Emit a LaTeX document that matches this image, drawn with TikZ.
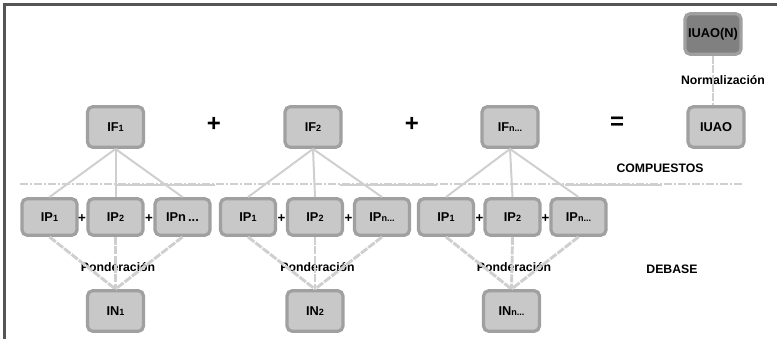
\documentclass[tikz,border=0pt]{standalone}
\usepackage{fontspec}
\setmainfont{Liberation Sans}
\begin{document}
\begin{tikzpicture}[x=0.75pt,y=-0.75pt,
  box/.style={draw=boxline,fill=boxfill,line width=2.4pt,rounded corners=4pt,
    minimum width=42pt,minimum height=30.5pt,inner sep=0pt,font=\bfseries\fontsize{9.6}{10}\selectfont},
  ipbox/.style={box,minimum width=41.25pt,minimum height=27.5pt},
  dbox/.style={box,fill=darkfill},
  up/.style={draw=conn,line width=1.5pt},
  down/.style={draw=conn,line width=2.2pt,dash pattern=on 6pt off 1pt},
  lbl/.style={font=\bfseries\fontsize{9.2}{10}\selectfont,inner sep=0pt},
  bigop/.style={font=\bfseries\fontsize{18}{19}\selectfont,inner sep=0pt},
  smop/.style={font=\bfseries\fontsize{10}{11}\selectfont,inner sep=0pt}]
\definecolor{boxfill}{HTML}{C8C8C8}
\definecolor{boxline}{HTML}{A0A0A0}
\definecolor{darkfill}{HTML}{808080}
\definecolor{conn}{HTML}{CFCFCF}
\definecolor{frame}{HTML}{555555}
\newcommand{\sbs}[1]{{\fontsize{6.8}{7}\selectfont #1}}
\useasboundingbox (0,0) rectangle (777,339);
% frame
\draw[frame,line width=1.6pt] (4.5,339) -- (4.5,4.5) -- (777,4.5);
% separator
\draw[conn,line width=1.2pt,dash pattern=on 6pt off 1.5pt on 1.5pt off 1.5pt] (20,184) -- (742,184);
\draw[conn,line width=2pt] (117,185) -- (215,185);
\draw[conn,line width=2pt] (340,185) -- (437,185);
\draw[conn,line width=2pt] (565,185) -- (662,185);
% labels
\node[lbl] (comp) at (660,168) {COMPUESTOS};
\node[lbl] (debase) at (672,269) {DEBASE};
\node[lbl] (pond1) at (118,267) {Ponderación};
\node[lbl] (pond2) at (317.5,267) {Ponderación};
\node[lbl] (pond3) at (514,267) {Ponderación};
% top row
\node[box] (IF1) at (115.5,127) {IF\sbs{1}};
\node[box] (IF2) at (313,127) {IF\sbs{2}};
\node[box] (IF3) at (510,127) {IF\sbs{n...}};
\node[box] (IUAO) at (716,127) {IUAO};
\node[dbox] (IUAON) at (713,34) {IUAO(N)};
\node[bigop] (p1) at (214,124) {+};
\node[bigop] (p2) at (412,124) {+};
\node[bigop] (eq) at (617,123) {=};
\node[lbl] (norm) at (723,80) {Normalización};
% bottom rows
\node[ipbox] (IPa1) at (49.5,217) {IP\sbs{1}};
\node[ipbox] (IPa2) at (115.5,217) {IP\sbs{2}};
\node[ipbox] (IPa3) at (182.5,217) {IPn\,...};
\node[ipbox] (IPb1) at (248,217) {IP\sbs{1}};
\node[ipbox] (IPb2) at (315,217) {IP\sbs{2}};
\node[ipbox] (IPb3) at (382,217) {IP\sbs{n...}};
\node[ipbox] (IPc1) at (446,217) {IP\sbs{1}};
\node[ipbox] (IPc2) at (512.5,217) {IP\sbs{2}};
\node[ipbox] (IPc3) at (578.5,217) {IP\sbs{n...}};
\node[smop] (sa1) at (82,219) {+};
\node[smop] (sa2) at (149,219) {+};
\node[smop] (sb1) at (281.5,219) {+};
\node[smop] (sb2) at (348.5,219) {+};
\node[smop] (sc1) at (479.5,219) {+};
\node[smop] (sc2) at (545.5,219) {+};
\node[box] (IN1) at (115.5,311) {IN\sbs{1}};
\node[box] (IN2) at (315,311) {IN\sbs{2}};
\node[box] (IN3) at (511.5,311) {IN\sbs{n...}};
% connectors
\foreach \g/\t in {a/1,b/2,c/3}{
  \foreach \i in {1,2,3}{
    \path[up] (IF\t.south) -- (IP\g\i.north);
    \path[down] (IP\g\i.south) -- (IN\t.north);
  }
}
\path[down] (IUAON.south) -- (IUAON.south |- IUAO.north);
\end{tikzpicture}
\end{document}
